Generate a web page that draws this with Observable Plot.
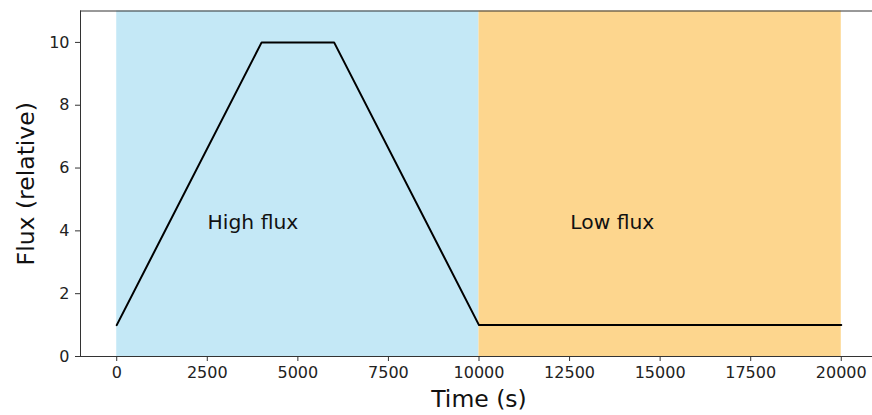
<!DOCTYPE html>
<html>
<head>
<meta charset="utf-8">
<script src="https://cdn.jsdelivr.net/npm/d3@7"></script>
<script src="https://cdn.jsdelivr.net/npm/@observablehq/plot@0.6"></script>
<style>
  html, body { margin: 0; padding: 0; background: white; }
</style>
</head>
<body>
<div id="chart"></div>
<script>
// Flux profile
const timeS = [0, 4000, 6000, 10000, 20000];
const fluxRel = [1, 10, 10, 1, 1];

// Shaded regimes
const bandStart = [0, 10000];
const bandEnd = [10000, 20000];
const bandColor = ["#c4e8f6", "#fdd68e"];
const bandLabel = ["High flux", "Low flux"];
const labelX = [3760, 13680];
const labelY = [4.27, 4.27];

// Ticks
const xTicks = [0, 2500, 5000, 7500, 10000, 12500, 15000, 17500, 20000];
const yTicks = [0, 2, 4, 6, 8, 10];

const line = timeS.map((t, i) => ({t, f: fluxRel[i]}));
const bands = bandStart.map((s, i) => ({s, e: bandEnd[i], c: bandColor[i], label: bandLabel[i], lx: labelX[i], ly: labelY[i]}));

const font = "DejaVu Sans, sans-serif";

const chart = Plot.plot({
  width: 872,
  height: 415,
  marginLeft: 80,
  marginRight: -5,
  marginTop: 10.5,
  marginBottom: 59,
  x: {domain: [-1000, 21000], range: [80, 877]},
  y: {domain: [0, 11], range: [356, 10.5]},
  color: {type: "identity"},
  style: {fontFamily: font, background: "white", overflow: "hidden"},
  marks: [
    Plot.rect(bands, {x1: "s", x2: "e", y1: 0, y2: 11, fill: "c"}),
    Plot.line(line, {x: "t", y: "f", stroke: "black", strokeWidth: 2}),
    Plot.text(bands, {x: "lx", y: "ly", text: "label", fontSize: 20.3, fill: "#111", fontFamily: font}),
    Plot.ruleY([0, 11], {stroke: "#333", strokeWidth: 1}),
    Plot.ruleX([-1000], {stroke: "#333", strokeWidth: 1}),
    Plot.axisX({ticks: xTicks, tickFormat: d => String(d), tickSize: 5, tickPadding: 5, fontSize: 16, label: null, stroke: "#333", color: "#222"}),
    Plot.axisY({ticks: yTicks, tickFormat: d => String(d), tickSize: 5, tickPadding: 6, fontSize: 16, label: null, stroke: "#333", color: "#222"}),
    Plot.text(["Time (s)"], {frameAnchor: "bottom", lineAnchor: "top", dy: 34, fontSize: 23.5, fill: "#111", fontFamily: font}),
    Plot.text(["Flux (relative)"], {frameAnchor: "left", textAnchor: "middle", dx: -54, rotate: -90, fontSize: 23.5, fill: "#111", fontFamily: font})
  ]
});
document.getElementById("chart").appendChild(chart);
</script>
</body>
</html>
